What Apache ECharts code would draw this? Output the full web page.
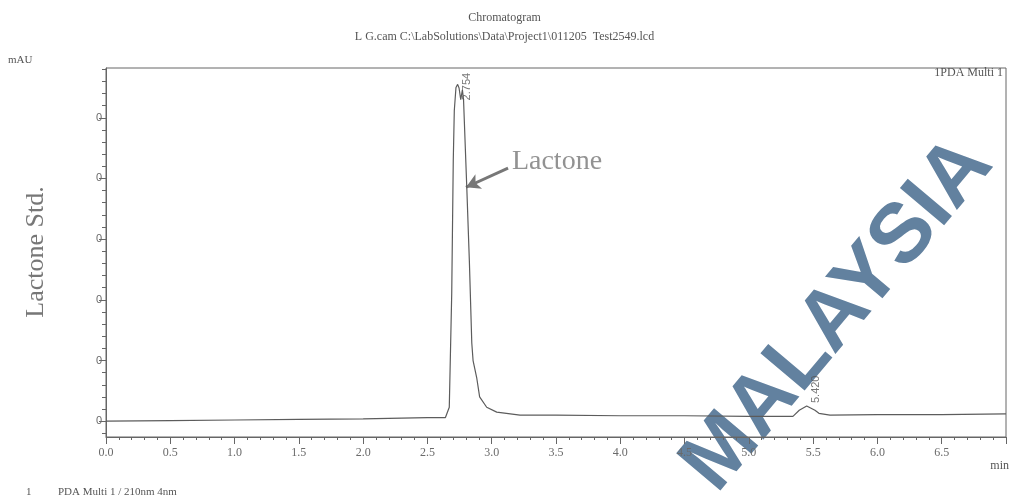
<!DOCTYPE html>
<html>
<head>
<meta charset="utf-8">
<script src="https://cdn.jsdelivr.net/npm/echarts@6/dist/echarts.min.js"></script>
<style>
html,body{margin:0;padding:0;background:#fff;}
#c{width:1009px;height:503px;background:#fff;}
</style>
</head>
<body>
<div id="c"></div>
<script>
// ---- data ----
const baselineBefore = [[0.0,0.00],[0.5,0.01],[1.0,0.02],[1.5,0.03],[2.0,0.04],[2.5,0.06]];
const mainPeak = [[2.640,0.06],[2.655,0.09],[2.670,0.23],[2.689,2.11],[2.701,4.30],[2.709,5.12],[2.722,5.50],[2.735,5.55],[2.746,5.49],[2.759,5.30],[2.772,5.46],[2.781,5.29],[2.806,3.86],[2.826,2.65],[2.845,1.29],[2.855,1.00],[2.883,0.72],[2.906,0.40],[2.961,0.23],[3.039,0.15],[3.220,0.10]];
const baselineMiddle = [[3.5,0.10],[4.0,0.09],[4.5,0.09],[5.0,0.08],[5.343,0.08]];
const smallPeak = [[5.392,0.18],[5.450,0.25],[5.514,0.18],[5.545,0.13],[5.631,0.10]];
const baselineAfter = [[6.0,0.11],[6.5,0.11],[7.0,0.12]];
const peakTimes = [2.754, 5.420];
const peakHeights = [5.55, 0.25];
const peakLabels = ['2.754', '5.420'];
const yTickValues = [0,1,2,3,4,5];
const yTickLabels = ['0','0','0','0','0','0'];
const arrowFrom = [3.127, 4.17];
const arrowTo = [2.80, 3.855];
const annotationText = 'Lactone';

const signal = [].concat(baselineBefore, mainPeak, baselineMiddle, smallPeak, baselineAfter);
const yMin = -0.26, yMax = 5.82;
const yMinor = [];
for (let v = -0.2; v < yMax; v += 0.2) yMinor.push(Math.round(v*10)/10);

const chart = echarts.init(document.getElementById('c'));
const axisCol = '#666';
const txtCol = '#6a6a6a';
const serif = '"Liberation Serif", "DejaVu Serif", serif';
const sans = '"Liberation Sans", Arial, sans-serif';

chart.setOption({
  animation: false,
  backgroundColor: 'transparent',
  grid: {left: 106, right: 3, top: 68, bottom: 66, show: true, borderColor: axisCol, borderWidth: 1, backgroundColor: 'transparent'},
  xAxis: {
    type: 'value', min: 0, max: 7, interval: 0.5,
    axisLine: {onZero: false, lineStyle: {color: axisCol, width: 1}},
    axisTick: {length: 7, lineStyle: {color: axisCol}},
    minorTick: {show: true, splitNumber: 5, length: 3, lineStyle: {color: axisCol}},
    splitLine: {show: false},
    axisLabel: {color: txtCol, fontFamily: serif, fontSize: 12, margin: 10, showMaxLabel: false,
      formatter: v => v.toFixed(1)}
  },
  yAxis: [{
    type: 'value', min: yMin, max: yMax, position: 'left',
    axisLine: {show: true, lineStyle: {color: axisCol}},
    axisTick: {show: true, length: 7, customValues: yTickValues, lineStyle: {color: axisCol}},
    splitLine: {show: false},
    axisLabel: {color: txtCol, fontFamily: sans, fontSize: 11, margin: 4, customValues: yTickValues,
      formatter: v => yTickLabels[yTickValues.indexOf(Math.round(v))] || ''}
  }, {
    type: 'value', min: yMin, max: yMax, position: 'left',
    axisLine: {show: false},
    axisTick: {show: true, length: 4, customValues: yMinor, lineStyle: {color: axisCol}},
    splitLine: {show: false},
    axisLabel: {show: false}
  }],
  graphic: [
    {type: 'text', x: 838, y: 315, zlevel: -1, rotation: 0.87,
      style: {text: 'MALAYSIA', fill: '#62819f', font: 'bold 84px "Liberation Sans", Arial, sans-serif', align: 'center', verticalAlign: 'middle'}},
    {type: 'text', left: 'center', top: 12, style: {text: 'Chromatogram', fill: '#555', font: '12px ' + serif}},
    {type: 'text', left: 'center', top: 31, style: {text: 'L G.cam C:\\LabSolutions\\Data\\Project1\\011205  Test2549.lcd', fill: '#555', font: '12px ' + serif}},
    {type: 'text', left: 8, top: 55, style: {text: 'mAU', fill: '#555', font: '11px ' + serif}},
    {type: 'text', right: 6, top: 67, style: {text: '1PDA Multi 1', fill: '#555', font: '12px ' + serif}},
    {type: 'text', right: 0, top: 460, style: {text: 'min', fill: '#555', font: '12px ' + serif}},
    {type: 'text', left: 26, top: 487, style: {text: '1', fill: '#555', font: '11px ' + serif}},
    {type: 'text', left: 58, top: 487, style: {text: 'PDA Multi 1 / 210nm 4nm', fill: '#555', font: '11px ' + serif}},
    {type: 'text', x: 36, y: 252, rotation: Math.PI/2, style: {text: 'Lactone Std.', fill: '#777', font: '26px ' + serif, align: 'center', verticalAlign: 'middle'}}
  ],
  series: [{
    type: 'line', data: signal, showSymbol: false, symbol: 'none', z: 5,
    lineStyle: {color: '#5c5c5c', width: 1.2},
    markLine: {
      silent: true, symbol: ['none', 'arrow'], symbolSize: [12, 14],
      lineStyle: {color: '#777', width: 3, type: 'solid'},
      label: {show: false},
      data: [[{coord: arrowFrom}, {coord: arrowTo}]]
    }
  }, {
    type: 'scatter', symbolSize: 0, z: 6,
    data: peakTimes.map((t, i) => ({value: [t, peakHeights[i]], label: {position: i === 0 ? [7, 16] : [13, -3]}})),
    label: {show: true, rotate: 90, align: 'left', verticalAlign: 'middle', color: '#555', fontFamily: sans, fontSize: 11,
      formatter: p => peakLabels[p.dataIndex]}
  }, {
    type: 'scatter', symbolSize: 0, z: 6,
    data: [[arrowFrom[0] + 0.03, arrowFrom[1] + 0.1]],
    label: {show: true, position: 'right', distance: 0, color: '#777', fontFamily: serif, fontSize: 28,
      formatter: annotationText}
  }]
});
</script>
</body>
</html>
